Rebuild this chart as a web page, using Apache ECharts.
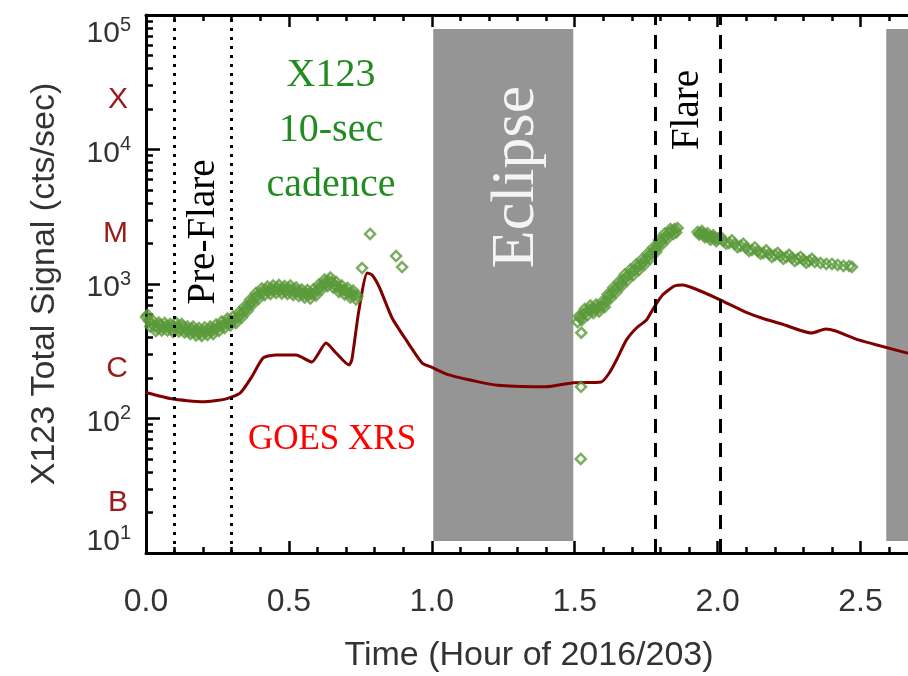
<!DOCTYPE html>
<html><head><meta charset="utf-8">
<script src="https://cdn.jsdelivr.net/npm/echarts@6/dist/echarts.min.js"></script>
<style>html,body{margin:0;padding:0;background:#fff}#c{width:908px;height:676px}</style>
</head><body><div id="c"></div>
<script>
// ---- GOES XRS (scaled to the X123 axis) ----
const goesTime = [0.00,0.09,0.20,0.28,0.33,0.37,0.41,0.455,0.525,0.58,0.63,0.665,0.71,0.72,0.745,0.774,0.791,0.816,0.861,0.91,0.966,1.00,1.06,1.16,1.23,1.40,1.49,1.593,1.621,1.646,1.681,1.716,1.751,1.772,1.807,1.849,1.877,1.923,2.003,2.098,2.154,2.224,2.329,2.378,2.413,2.493,2.68];
const goesFlux = [156,140,133,140,155,204,282,297,297,263,364,307,250,272,641,1208,1167,950,559,384,259,240,211,188,177,172,184,187,218,272,384,471,540,641,828,966,984,918,773,619,559,504,432,463,447,384,300];

// ---- X123 10-sec cadence total signal ----
const x123TimeA = [0.00,0.01,0.02,0.03,0.04,0.05,0.06,0.07,0.08,0.09,0.10,0.11,0.12,0.13,0.14,0.15,0.16,0.17,0.18,0.19,0.20,0.21,0.22,0.23,0.24,0.25,0.26,0.27,0.28,0.29,0.30,0.31,0.32,0.33,0.34,0.35,0.36,0.37,0.38,0.39,0.40,0.41,0.42,0.43,0.44,0.45,0.46,0.47,0.48,0.49,0.50,0.51,0.52,0.53,0.54,0.55,0.56,0.57,0.58,0.59,0.60,0.61,0.62,0.63,0.64,0.65,0.66,0.67,0.68,0.69,0.70,0.71,0.72,0.73,0.74];
const x123CountsA = [569,531,504,487,471,495,471,487,479,463,479,487,463,479,455,448,463,440,448,432,448,440,455,448,463,471,487,495,513,521,531,540,559,589,619,652,698,735,787,815,857,873,902,887,918,902,934,902,918,887,918,902,873,887,857,843,857,828,843,857,902,950,1000,1016,1052,1035,984,950,918,902,887,857,843,828,815];
const x123TimeA2 = [0.005,0.015,0.025,0.035,0.045,0.055,0.065,0.075,0.085,0.095,0.105,0.115,0.125,0.135,0.145,0.155,0.165,0.175,0.185,0.195,0.205,0.215,0.225,0.235,0.245,0.255,0.265,0.275,0.285,0.295,0.305,0.315,0.325,0.335,0.345,0.355,0.365,0.375,0.385,0.395,0.405,0.415,0.425,0.435,0.445,0.455,0.465,0.475,0.485,0.495,0.505,0.515,0.525,0.535,0.545,0.555,0.565,0.575,0.585,0.595,0.605,0.615,0.625,0.635,0.645,0.655,0.665,0.675,0.685,0.695,0.705,0.715,0.725,0.735];
const x123CountsA2 = [589,483,530,447,517,451,513,451,504,440,517,444,504,436,483,425,483,415,471,411,475,418,483,425,500,447,526,471,553,491,573,513,614,564,680,630,767,711,857,781,926,829,957,843,974,857,983,850,966,843,974,829,942,814,910,794,902,780,910,822,991,911,1079,966,1117,943,1035,872,974,835,934,794,894,767];
const x123TimeB = [0.756,0.784,0.875,0.896];
const x123CountsB = [1314,2355,1614,1337];
const x123TimeC = [1.521,1.522,1.523,1.51,1.52,1.53,1.54,1.55,1.56,1.57,1.58,1.59,1.60,1.61,1.62,1.63,1.64,1.65,1.66,1.67,1.68,1.69,1.70,1.71,1.72,1.73,1.74,1.75,1.76,1.77,1.78,1.79,1.80,1.81,1.82,1.83,1.84,1.85,1.86];
const x123CountsC = [50,172,434,521,559,598,619,641,652,652,663,675,698,748,815,857,902,950,1000,1072,1127,1166,1227,1270,1338,1385,1457,1533,1614,1699,1789,1918,2052,2163,2274,2394,2477,2564,2606];
const x123TimeC2 = [1.515,1.525,1.535,1.545,1.555,1.565,1.575,1.585,1.595,1.605,1.615,1.625,1.635,1.645,1.655,1.665,1.675,1.685,1.695,1.705,1.715,1.725,1.735,1.745,1.755,1.765,1.775,1.785,1.795,1.805,1.815,1.825,1.835,1.845,1.855];
const x123CountsC2 = [578,540,651,588,692,609,703,625,735,675,836,781,941,865,1044,968,1177,1070,1281,1166,1396,1271,1522,1396,1685,1547,1868,1731,2126,1968,2375,2180,2560,2354,2414];
const x123TimeD = [1.93,1.94,1.95,1.96,1.97,1.98,1.99,2.00,2.02,2.04,2.06,2.08,2.10,2.12,2.14,2.16,2.18,2.20,2.22,2.24,2.26,2.28,2.30,2.32,2.34,2.36,2.38,2.40,2.42,2.44,2.46,2.47];
const x123CountsD = [2438,2394,2354,2274,2235,2235,2190,2163,2090,2018,1985,1918,1852,1789,1759,1699,1671,1640,1614,1587,1560,1533,1508,1482,1457,1432,1409,1409,1385,1362,1362,1338];
const x123TimeD2 = [1.935,1.945,1.955,1.965,1.975,1.985,1.995,2.01,2.03,2.05,2.07,2.09,2.11,2.13,2.15,2.17,2.19,2.21,2.23,2.25,2.27,2.29,2.31,2.33];
const x123CountsD2 = [2330,2480,2230,2380,2130,2300,2080,2250,1990,2110,1880,1990,1760,1870,1680,1780,1590,1700,1540,1650,1480,1590,1440,1540];

// ---- axes / annotations ----
const xLabelTicks = [0,0.5,1.0,1.5,2.0,2.5];
const xMinorTicks = [0.1,0.2,0.3,0.4,0.6,0.7,0.8,0.9,1.1,1.2,1.3,1.4,1.6,1.7,1.8,1.9,2.1,2.2,2.3,2.4,2.6];
const yMajorTicks = [10,100,1000,10000,100000];
const yMinorTicks = [20,30,40,50,60,70,80,90,200,300,400,500,600,700,800,900,2000,3000,4000,5000,6000,7000,8000,9000,20000,30000,40000,50000,60000,70000,80000,90000];
const goesClassLabels = ['B','C','M','X'];
const goesClassLevels = [23.5,235,2350,23500];
const eclipseStart = [1.005, 2.59];
const eclipseEnd = [1.495, 2.68];
const eclipseLow = 12.3, eclipseHigh = 78700;
const preFlareLines = [0.1, 0.3];
const flareLines = [1.785, 2.008];

const pair = (t, v) => t.map((x, i) => [x, v[i]]);
const x123Data = [].concat(pair(x123TimeA, x123CountsA), pair(x123TimeA2, x123CountsA2), pair(x123TimeB, x123CountsB),
  pair(x123TimeC, x123CountsC), pair(x123TimeC2, x123CountsC2), pair(x123TimeD, x123CountsD), pair(x123TimeD2, x123CountsD2));
const goesData = pair(goesTime, goesFlux);

const SANS = '"Liberation Sans", Arial, sans-serif';
const SERIF = '"Liberation Serif", "Times New Roman", serif';
const TXT = '#333';

const xBase = {type:'value', min:0, max:2.68, splitLine:{show:false}};
const yBase = {type:'log', logBase:10, min:10, max:100000, splitLine:{show:false}};

const chart = echarts.init(document.getElementById('c'), null, {renderer:'canvas'});
chart.setOption({
  animation:false,
  backgroundColor:'#fff',
  grid:{left:146, top:15, width:766, height:538, containLabel:false, outerBoundsMode:'none'},
  xAxis:[
    Object.assign({}, xBase, {position:'bottom',
      axisLine:{show:true,onZero:false,lineStyle:{color:'#000',width:3}},
      axisTick:{show:true,inside:true,length:12,customValues:xLabelTicks,lineStyle:{color:'#000',width:2.5}},
      axisLabel:{customValues:xLabelTicks,formatter:v=>Number(v).toFixed(1),fontSize:32,fontFamily:SANS,color:TXT,margin:33},
      name:'Time (Hour of 2016/203)',nameLocation:'middle',nameGap:86,
      nameTextStyle:{fontSize:34,fontFamily:SANS,color:TXT}}),
    Object.assign({}, xBase, {position:'bottom',
      axisLine:{show:false,onZero:false},
      axisTick:{show:true,inside:true,length:6,customValues:xMinorTicks,lineStyle:{color:'#000',width:2.5}},
      axisLabel:{show:false}}),
    Object.assign({}, xBase, {position:'top',
      axisLine:{show:true,onZero:false,lineStyle:{color:'#000',width:3}},
      axisTick:{show:true,inside:true,length:12,customValues:xLabelTicks,lineStyle:{color:'#000',width:2.5}},
      axisLabel:{show:false}}),
    Object.assign({}, xBase, {position:'top',
      axisLine:{show:false,onZero:false},
      axisTick:{show:true,inside:true,length:6,customValues:xMinorTicks,lineStyle:{color:'#000',width:2.5}},
      axisLabel:{show:false}})
  ],
  yAxis:[
    Object.assign({}, yBase, {position:'left',
      axisLine:{show:true,onZero:false,lineStyle:{color:'#000',width:3}},
      axisTick:{show:true,inside:true,length:14,customValues:yMajorTicks,lineStyle:{color:'#000',width:2.5}},
      axisLabel:{customValues:yMajorTicks,margin:15,
        verticalAlignMaxLabel:'top', verticalAlignMinLabel:'bottom',
        formatter:v=>'{b|10}{s|'+Math.round(Math.log10(v))+'}',
        rich:{b:{fontSize:30,fontFamily:SANS,color:TXT,lineHeight:30,padding:[8,0,0,0]},
              s:{fontSize:20,fontFamily:SANS,color:TXT,verticalAlign:'top',lineHeight:20}}},
      name:'X123 Total Signal (cts/sec)',nameLocation:'middle',nameGap:84,
      nameTextStyle:{fontSize:34,fontFamily:SANS,color:TXT}}),
    Object.assign({}, yBase, {position:'left',
      axisLine:{show:false},axisTick:{show:false},
      axisLabel:{customValues:goesClassLevels,margin:18,
        formatter:v=>goesClassLabels[Math.round(Math.log10(v)-1.37)],
        fontSize:30,fontFamily:SANS,color:'#9b1b1b'}}),
    Object.assign({}, yBase, {position:'left',
      axisLine:{show:false},
      axisTick:{show:true,inside:true,length:7,customValues:yMinorTicks,lineStyle:{color:'#000',width:2.5}},
      axisLabel:{show:false}})
  ],
  series:[
    {type:'line',data:[],z:1,silent:true,
      markArea:{silent:true,itemStyle:{color:'#959595'},
        data:eclipseStart.map((s,i)=>[{xAxis:s,yAxis:eclipseLow},{xAxis:eclipseEnd[i],yAxis:eclipseHigh}])}},
    {name:'GOES XRS',type:'line',data:goesData,showSymbol:false,smooth:0.2,z:3,
      lineStyle:{color:'#800000',width:3},itemStyle:{color:'#800000'}},
    {name:'X123',type:'scatter',data:x123Data,symbol:'diamond',symbolSize:10,z:4,
      itemStyle:{color:'rgba(0,0,0,0)',borderColor:'#5a9a3a',borderWidth:2.5}},
    {type:'line',data:[],z:5,silent:true,
      markLine:{silent:true,symbol:['none','none'],label:{show:false},animation:false,
        data:[].concat(
          preFlareLines.map(x=>({xAxis:x,lineStyle:{color:'#000',width:3,type:[3,6]}})),
          flareLines.map(x=>({xAxis:x,lineStyle:{color:'#000',width:3,type:[14,10]}}))
        )}}
  ],
  graphic:[
    {type:'text',x:204,y:232,rotation:Math.PI/2,z:10,
      style:{text:'Pre-Flare',font:'39px '+SERIF,fill:'#000',textAlign:'center',textVerticalAlign:'middle'}},
    {type:'text',x:688,y:110,rotation:Math.PI/2,z:10,
      style:{text:'Flare',font:'39px '+SERIF,fill:'#000',textAlign:'center',textVerticalAlign:'middle'}},
    {type:'text',x:517,y:177,rotation:Math.PI/2,z:10,
      style:{text:'Eclipse',font:'62px '+SERIF,fill:'#f4f4f4',textAlign:'center',textVerticalAlign:'middle'}},
    {type:'text',x:331,y:130,z:10,
      style:{text:'X123\n10-sec\ncadence',font:'40px '+SERIF,lineHeight:55,fill:'#228b22',textAlign:'center',textVerticalAlign:'middle'}},
    {type:'text',x:332,y:440,z:10,
      style:{text:'GOES XRS',font:'35px '+SERIF,fill:'#ff0000',textAlign:'center',textVerticalAlign:'middle'}}
  ]
});
</script></body></html>
